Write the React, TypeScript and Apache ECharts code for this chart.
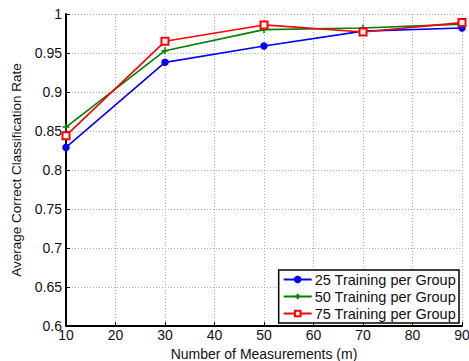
import React, { useEffect, useRef } from "react";
import * as echarts from "echarts";

const measurements = [10, 30, 50, 70, 90];
const train25 = [0.829, 0.938, 0.959, 0.978, 0.982];
const train50 = [0.855, 0.953, 0.98, 0.982, 0.987];
const train75 = [0.844, 0.965, 0.986, 0.977, 0.989];

const FONT = "Liberation Sans, Arial, sans-serif";

function pairs(ys: number[]) {
  return measurements.map((x, i) => [x, ys[i]]);
}

export default function App() {
  const ref = useRef<HTMLDivElement>(null);
  useEffect(() => {
    if (!ref.current) return;
    const chart = echarts.init(ref.current, undefined, { renderer: "svg" });
    const line = (name: string, color: string, symbol: string, size: number, ys: number[]) => ({
      name,
      type: "line",
      data: pairs(ys),
      symbol,
      symbolSize: size,
      showAllSymbol: true,
      lineStyle: { color, width: 1.6 },
      itemStyle: { color, borderColor: color, borderWidth: 1.5 },
    });
    chart.setOption({
      animation: false,
      backgroundColor: "#fff",
      textStyle: { fontFamily: FONT },
      grid: { left: 66, right: 7, top: 14, bottom: 35, outerBoundsMode: "none", containLabel: false },
      xAxis: {
        type: "value",
        min: 10,
        max: 90,
        interval: 10,
        name: "Number of Measurements (m)",
        nameLocation: "middle",
        nameGap: 17,
        nameTextStyle: { color: "#111", fontSize: 14, fontFamily: FONT },
        axisLine: { lineStyle: { color: "#000", width: 2 } },
        axisTick: { inside: true, length: 4, lineStyle: { color: "#000" } },
        axisLabel: { color: "#111", fontSize: 14, margin: 2, fontFamily: FONT },
        splitLine: { show: true, lineStyle: { color: "#aaa", type: [1, 2], width: 1 } },
      },
      yAxis: {
        type: "value",
        min: 0.6,
        max: 1,
        interval: 0.05,
        name: "Average Correct Classification Rate",
        nameLocation: "middle",
        nameGap: 35,
        nameTextStyle: { color: "#111", fontSize: 13.5, fontFamily: FONT },
        axisLine: { show: true, lineStyle: { color: "#000", width: 2 } },
        axisTick: { show: true, inside: true, length: 4, lineStyle: { color: "#000" } },
        axisLabel: {
          color: "#111",
          fontSize: 14,
          margin: 4,
          fontFamily: FONT,
          formatter: (v: number) => String(parseFloat(v.toFixed(2))),
        },
        splitLine: { show: true, lineStyle: { color: "#aaa", type: [1, 2], width: 1 } },
      },
      legend: {
        orient: "vertical",
        right: 10,
        bottom: 38,
        backgroundColor: "#fff",
        borderColor: "#000",
        borderWidth: 1.5,
        borderRadius: 0,
        padding: [2, 3, 2, 4],
        itemGap: 2,
        itemWidth: 28,
        itemHeight: 7,
        textStyle: { color: "#111", fontSize: 14.5, fontFamily: FONT, padding: [0, 0, 0, -2] },
      },
      series: [
        line("25 Training per Group", "#0000ff", "circle", 6, train25),
        line("50 Training per Group", "#008000", "path://M0,5L10,5M5,0L5,10", 7, train50),
        line("75 Training per Group", "#ff0000", "emptyRect", 7, train75),
      ],
    });
    return () => chart.dispose();
  }, []);
  return (
    <div
      ref={ref}
      style={{ position: "absolute", left: 0, top: 0, width: 469, height: 361 }}
    />
  );
}
